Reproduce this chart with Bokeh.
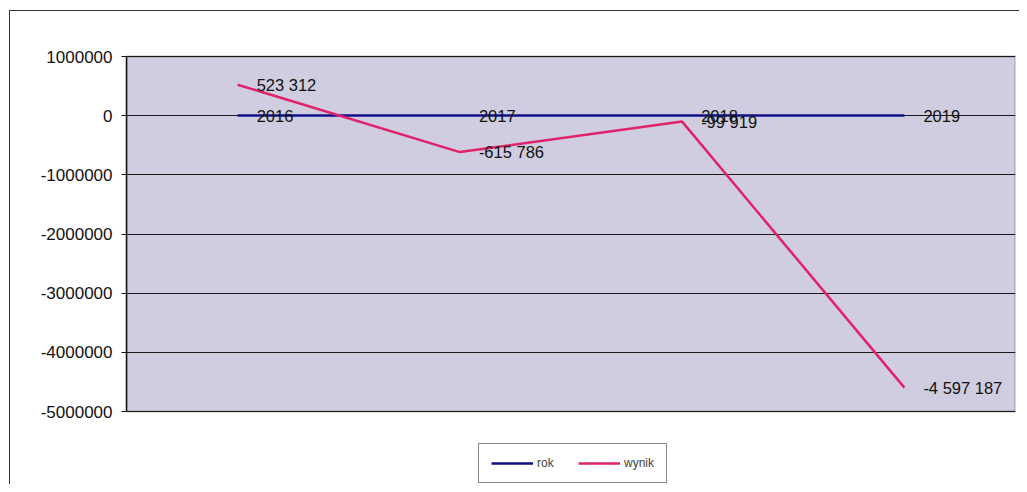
from bokeh.plotting import figure
from bokeh.models import (ColumnDataSource, Legend, LegendItem, LabelSet,
                          NumeralTickFormatter, FixedTicker, Range1d, BoxAnnotation)
from bokeh.embed import file_html
from bokeh.resources import INLINE
from bokeh.core.properties import value

# ---- data ----
categories = ["1", "2", "3", "4"]
rok = [2016, 2017, 2018, 2019]
wynik = [523312, -615786, -99919, -4597187]
y_ticks = [1000000, 0, -1000000, -2000000, -3000000, -4000000, -5000000]

def fmt(v):
    return f"{v:,}".replace(",", " ")

src_rok = ColumnDataSource(dict(x=categories, y=rok, lbl=[str(v) for v in rok]))
src_wyn = ColumnDataSource(dict(x=categories, y=wynik, lbl=[fmt(v) for v in wynik]))

FONT = "Liberation Sans"

y_top, y_bot = max(y_ticks), min(y_ticks)
per_px = (y_top - y_bot) / 355.0

p = figure(width=1019, height=484, x_range=categories,
           y_range=Range1d(y_bot - 73 * per_px, y_top + 2 * per_px),
           output_backend="svg", toolbar_location=None,
           min_border_left=126, min_border_right=4,
           min_border_top=54, min_border_bottom=0)
p.styles = {"background": "linear-gradient(#333,#333) 9px 10px / 1px calc(100% - 10px) no-repeat, "
                          "linear-gradient(#333,#333) 9px 10px / calc(100% - 9px) 1px no-repeat, white"}

p.background_fill_color = None
p.border_fill_color = None
p.outline_line_color = None

plot_area = BoxAnnotation(top=y_top, bottom=y_bot, fill_color="#cfcddf", fill_alpha=1,
                          line_color="#222", line_width=2, level="image")
p.add_layout(plot_area)

p.xaxis.visible = False
p.xgrid.visible = False
p.ygrid.ticker = FixedTicker(ticks=y_ticks)
p.ygrid.grid_line_color = "#1a1a1a"
p.ygrid.grid_line_width = 1.2

ya = p.yaxis[0]
ya.ticker = FixedTicker(ticks=y_ticks)
ya.bounds = (y_bot, y_top)
ya.formatter = NumeralTickFormatter(format="0")
ya.axis_line_color = "#111"
ya.axis_line_width = 1.5
ya.major_tick_line_color = "#111"
ya.major_tick_out = 5
ya.major_tick_in = 0
ya.minor_tick_line_color = None
ya.major_label_text_font = FONT
ya.major_label_text_font_size = "17px"
ya.major_label_text_color = "#111"
ya.major_label_standoff = 9

r_rok = p.line("x", "y", source=src_rok, line_color="#10108a", line_width=2.5)
r_wyn = p.line("x", "y", source=src_wyn, line_color="#e0226b", line_width=2.5)

for src in (src_rok, src_wyn):
    labels = LabelSet(x="x", y="y", text="lbl", source=src, x_offset=19, y_offset=0,
                      text_baseline="middle", text_align="left",
                      text_font=value(FONT), text_font_size="16.5px", text_color="#111")
    p.add_layout(labels)

legend = Legend(items=[LegendItem(label="rok", renderers=[r_rok]),
                       LegendItem(label="wynik", renderers=[r_wyn])],
                orientation="horizontal", location=(352, 1))
legend.label_text_font = FONT
legend.label_text_font_size = "12px"
legend.glyph_width = 42
legend.glyph_height = 12
legend.label_height = 12
legend.label_standoff = 4
legend.spacing = 21
legend.padding = 12
legend.margin = 0
legend.border_line_color = "#111"
legend.border_line_width = 1
legend.background_fill_color = "white"
legend.background_fill_alpha = 1
p.add_layout(legend, "center")

open("out.html", "w").write(file_html(p, INLINE))
